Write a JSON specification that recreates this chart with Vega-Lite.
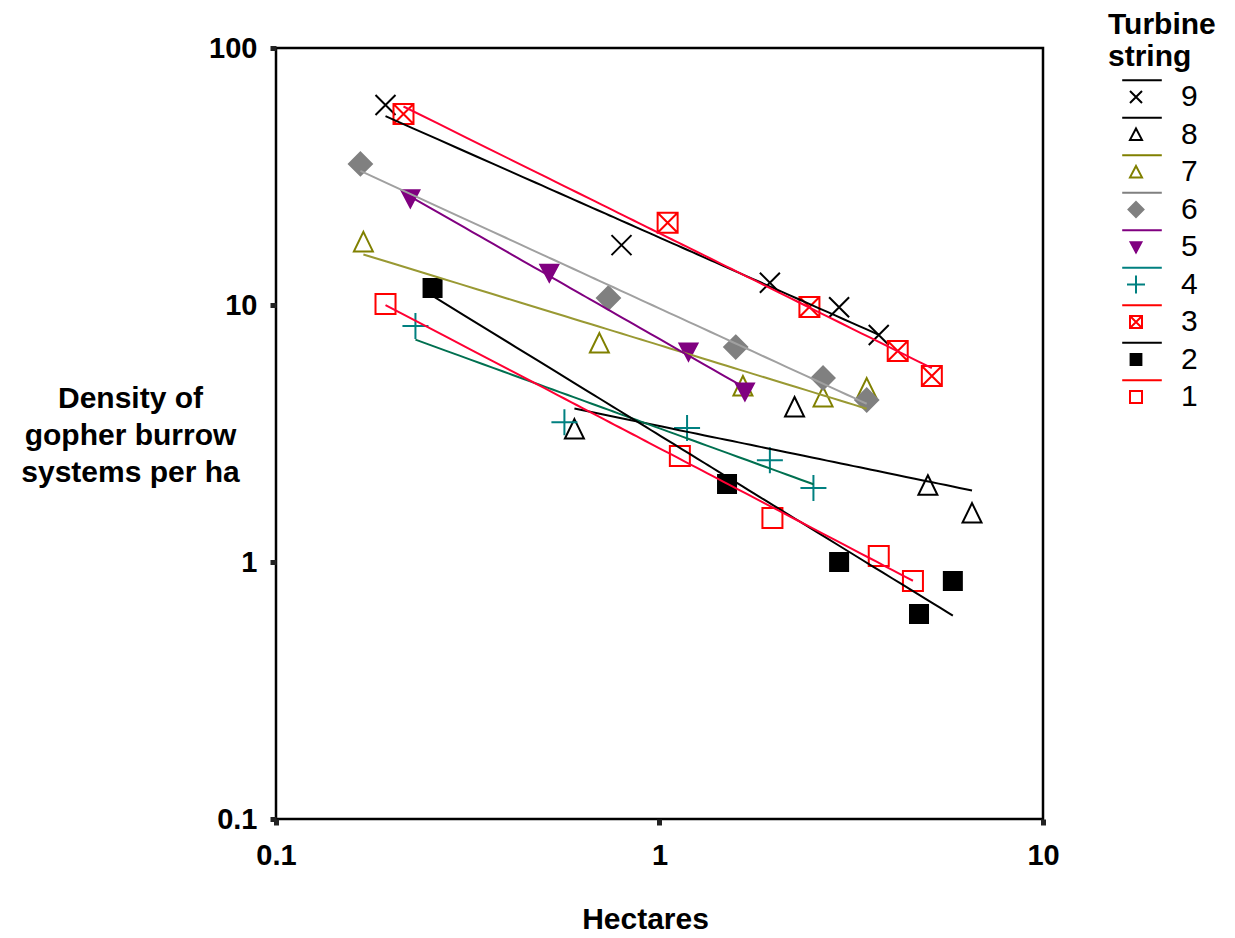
{
  "$schema": "https://vega.github.io/schema/vega-lite/v6.json",
  "width": 767,
  "height": 771,
  "autosize": {"type": "none"},
  "padding": {"left": 276, "top": 48, "right": 192, "bottom": 119},
  "background": "white",
  "config": {
    "font": "Liberation Sans",
    "view": {"stroke": "black", "strokeWidth": 2.5},
    "axis": {"grid": false, "domain": false, "ticks": true, "tickColor": "#222222", "tickSize": 6, "tickWidth": 5,
      "labelFont": "Liberation Sans", "labelFontSize": 29, "labelFontWeight": "bold", "labelColor": "black",
      "titleFont": "Liberation Sans", "titleFontSize": 30, "titleFontWeight": "bold", "titleColor": "black",
      "labelFlush": false, "labelOverlap": false}
  },
  "data": {"values": [
    {"s": "9", "x": 0.193, "y": 60.0}, {"s": "9", "x": 0.796, "y": 17.1}, {"s": "9", "x": 1.94, "y": 12.2}, {"s": "9", "x": 2.94, "y": 9.8}, {"s": "9", "x": 3.73, "y": 7.64},
    {"s": "8", "x": 0.600, "y": 3.29}, {"s": "8", "x": 2.25, "y": 4.01}, {"s": "8", "x": 5.01, "y": 1.99}, {"s": "8", "x": 6.53, "y": 1.55},
    {"s": "7", "x": 0.169, "y": 17.6}, {"s": "7", "x": 0.697, "y": 7.11}, {"s": "7", "x": 1.65, "y": 4.84}, {"s": "7", "x": 2.67, "y": 4.39}, {"s": "7", "x": 3.47, "y": 4.75},
    {"s": "6", "x": 0.166, "y": 35.4}, {"s": "6", "x": 0.736, "y": 10.65}, {"s": "6", "x": 1.58, "y": 6.86}, {"s": "6", "x": 2.67, "y": 5.20}, {"s": "6", "x": 3.47, "y": 4.27},
    {"s": "5", "x": 0.224, "y": 25.9}, {"s": "5", "x": 0.516, "y": 13.3}, {"s": "5", "x": 1.19, "y": 6.56}, {"s": "5", "x": 1.67, "y": 4.59},
    {"s": "4", "x": 0.231, "y": 8.28}, {"s": "4", "x": 0.565, "y": 3.50}, {"s": "4", "x": 1.18, "y": 3.32}, {"s": "4", "x": 1.94, "y": 2.49}, {"s": "4", "x": 2.52, "y": 1.94},
    {"s": "3", "x": 0.215, "y": 55.4}, {"s": "3", "x": 1.05, "y": 20.9}, {"s": "3", "x": 2.46, "y": 9.82}, {"s": "3", "x": 4.18, "y": 6.62}, {"s": "3", "x": 5.13, "y": 5.29},
    {"s": "2", "x": 0.256, "y": 11.65}, {"s": "2", "x": 1.50, "y": 2.01}, {"s": "2", "x": 2.94, "y": 1.00}, {"s": "2", "x": 4.75, "y": 0.628}, {"s": "2", "x": 5.82, "y": 0.844},
    {"s": "1", "x": 0.193, "y": 10.09}, {"s": "1", "x": 1.13, "y": 2.585}, {"s": "1", "x": 1.97, "y": 1.483}, {"s": "1", "x": 3.73, "y": 1.055}, {"s": "1", "x": 4.58, "y": 0.844}
  ]},
  "encoding": {
    "x": {"field": "x", "type": "quantitative",
      "scale": {"type": "log", "domain": [0.1, 10], "nice": false},
      "axis": {"values": [0.1, 1, 10], "format": "~g", "labelPadding": 16, "title": "Hectares",
        "titleX": 369, "titleY": 109, "titleAlign": "center", "titleBaseline": "alphabetic"}},
    "y": {"field": "y", "type": "quantitative",
      "scale": {"type": "log", "domain": [0.1, 100], "nice": false},
      "axis": {"values": [0.1, 1, 10, 100], "format": "~g", "labelPadding": 13,
        "title": ["Density of\u00a0\u00a0", "gopher burrow", "systems per ha"], "titleAngle": 0,
        "titleX": -146, "titleY": 359, "titleAlign": "center", "titleBaseline": "alphabetic", "titleLineHeight": 37}}
  },
  "layer": [
    {
      "mark": {"type": "point", "size": 400, "strokeWidth": 2, "opacity": 1},
      "encoding": {
        "shape": {"field": "s", "type": "nominal", "legend": null,
          "scale": {"domain": ["9","8","7","6","5","4","3","2","1"],
            "range": ["M-1,-1L1,1M-1,1L1,-1", "M0,-1L0.95,0.95L-0.95,0.95Z", "M0,-1L0.95,0.95L-0.95,0.95Z",
              "M0,-1.15L1.15,0L0,1.15L-1.15,0Z", "M-0.9,-0.85L0.9,-0.85L0,0.85Z", "M-1.3,0L1.3,0M0,-1.3L0,1.3",
              "M-1,-1L1,-1L1,1L-1,1ZM-1,-1L1,1M-1,1L1,-1", "M-0.9,-0.9L0.9,-0.9L0.9,0.9L-0.9,0.9Z", "M-1,-1L1,-1L1,1L-1,1Z"]}},
        "stroke": {"field": "s", "type": "nominal", "legend": null,
          "scale": {"domain": ["9","8","7","6","5","4","3","2","1"],
            "range": ["black", "black", "#808000", "#808080", "#800080", "#008080", "#ff0000", "black", "#ff0000"]}},
        "fill": {"field": "s", "type": "nominal", "legend": null,
          "scale": {"domain": ["9","8","7","6","5","4","3","2","1"],
            "range": ["transparent", "transparent", "transparent", "#808080", "#800080", "transparent", "transparent", "black", "transparent"]}}
      }
    },
    {
      "transform": [{"regression": "y", "on": "x", "groupby": ["s"], "method": "pow"}],
      "mark": {"type": "line", "strokeWidth": 2},
      "encoding": {
        "color": {"field": "s", "type": "nominal", "legend": null,
          "scale": {"domain": ["9","8","7","6","5","4","3","2","1"],
            "range": ["black", "black", "#999933", "#a0a0a0", "#800080", "#007050", "#ff0033", "black", "#ff0033"]}}
      }
    },
    {
      "transform": [{"filter": "datum.s == 'none'"}],
      "mark": {"type": "point", "strokeWidth": 2, "opacity": 1},
      "encoding": {
        "shape": {"field": "s", "type": "nominal",
          "scale": {"domain": ["9","8","7","6","5","4","3","2","1"],
            "range": ["M-2.3,-2.8L4.3,-2.8M-1,-1L1,1M-1,1L1,-1",
              "M-2.3,-2.8L4.3,-2.8M0,-1L1,0.9L-1,0.9Z",
              "M-2.3,-2.8L4.3,-2.8M0,-1L1,0.9L-1,0.9Z",
              "M-2.3,-2.8L4.3,-2.8M0,-1.25L1.25,0L0,1.25L-1.25,0Z",
              "M-2.3,-2.8L4.3,-2.8M-0.9,-0.8L0.9,-0.8L0,0.9Z",
              "M-2.3,-2.8L4.3,-2.8M-1.5,0L1.5,0M0,-1.5L0,1.5",
              "M-2.3,-2.8L4.3,-2.8M-1,-1L1,-1L1,1L-1,1ZM-1,-1L1,1M-1,1L1,-1",
              "M-2.3,-2.8L4.3,-2.8M-0.9,-0.9L0.9,-0.9L0.9,0.9L-0.9,0.9Z",
              "M-2.3,-2.8L4.3,-2.8M-1,-1L1,-1L1,1L-1,1Z"]},
          "legend": {"title": ["Turbine", "string"], "orient": "none", "legendX": 832, "legendY": -38, "padding": 0,
            "titleFont": "Liberation Sans", "titleFontSize": 30, "titleFontWeight": "bold", "titleColor": "black", "titleLineHeight": 32, "titlePadding": 10,
            "labelFont": "Liberation Sans", "labelFontSize": 30, "labelColor": "black", "labelOffset": 30,
            "symbolSize": 144, "symbolStrokeWidth": 2, "symbolOffset": 13, "rowPadding": 1.5}},
        "stroke": {"field": "s", "type": "nominal",
          "scale": {"domain": ["9","8","7","6","5","4","3","2","1"],
            "range": ["black", "black", "#808000", "#808080", "#800080", "#008080", "#ff0000", "black", "#ff0000"]},
          "legend": {"title": ["Turbine", "string"]}},
        "fill": {"field": "s", "type": "nominal",
          "scale": {"domain": ["9","8","7","6","5","4","3","2","1"],
            "range": ["transparent", "transparent", "transparent", "#808080", "#800080", "transparent", "transparent", "black", "transparent"]},
          "legend": {"title": ["Turbine", "string"]}}
      }
    }
  ],
  "resolve": {"scale": {"shape": "independent", "stroke": "independent", "fill": "independent", "color": "independent"}}
}
